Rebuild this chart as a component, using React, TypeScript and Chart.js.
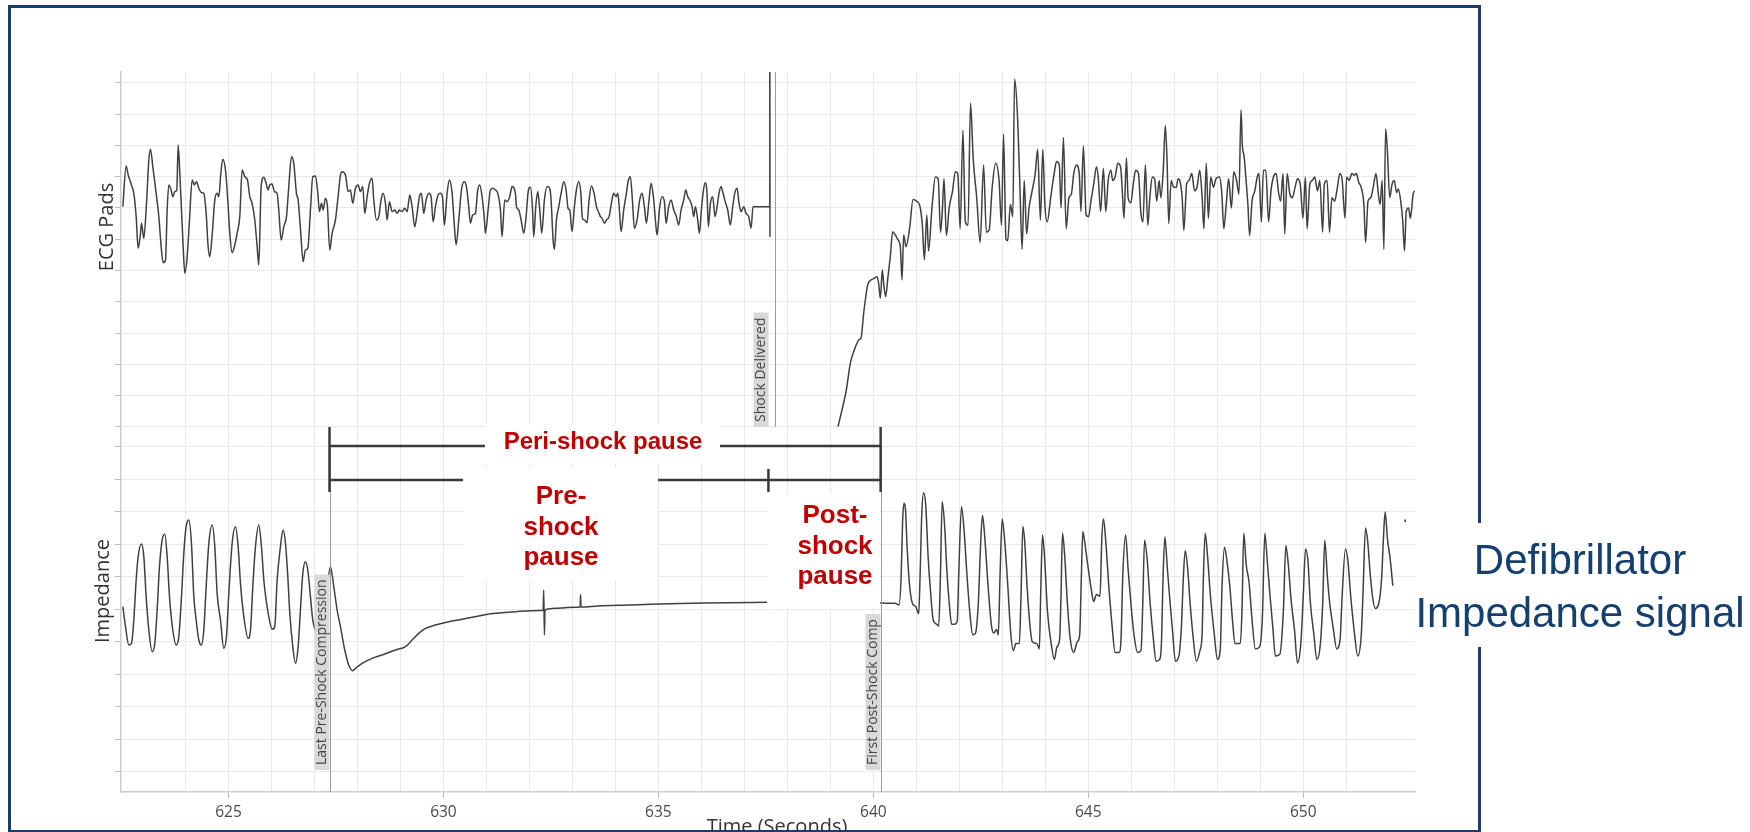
import React, { useEffect, useRef } from 'react';
import { Chart, registerables } from 'chart.js';

Chart.register(...registerables);

// ---------------- axis ranges & tick data ----------------
const xMin = 622.5;
const xMax = 652.6;
const xTickLabels = [625, 630, 635, 640, 645, 650];
const ecgMin = -9.331; // mV
const ecgMax = 2.171;
const impMin = 43.75; // ohm
const impMax = 265.3;
const ecgGrid = [2, 1.5, 1, 0.5, 0, -0.5, -1, -1.5, -2, -2.5, -3, -3.5];
const impGrid = [150, 140, 130, 120, 110, 100, 90, 80, 70, 60, 50];

// ---------------- event times (s) ----------------
const lastPreShockTime = 627.35;
const shockDeliveredTime = 637.72;
const shockBracketTime = 637.56;
const firstPostShockTime = 640.17;

// ---------------- ECG pads signal (time s, mV) ----------------
const ecgPreShock: [number, number][] = [
  [622.543,0.020],[622.620,0.670],[622.667,0.526],[622.744,0.366],[622.798,0.233],[622.853,-0.140],[622.899,-0.646],[622.953,-0.406],[622.977,-0.246],[623.031,-0.486],
  [623.093,0.073],[623.147,0.766],[623.186,0.936],[623.240,0.659],[623.318,0.233],[623.380,-0.140],[623.434,-0.619],[623.481,-0.875],[623.535,-0.832],[623.574,-0.033],
  [623.612,0.366],[623.667,0.286],[623.705,0.180],[623.752,0.260],[623.798,0.286],[623.829,1.005],[623.868,0.552],[623.907,-0.033],[623.946,-0.619],[623.984,-1.045],
  [624.039,-0.779],[624.093,-0.193],[624.155,0.446],[624.209,0.366],[624.256,0.419],[624.310,0.313],[624.372,0.244],[624.426,0.233],[624.481,-0.087],[624.527,-0.619],
  [624.566,-0.779],[624.620,-0.433],[624.682,0.127],[624.736,0.233],[624.775,0.180],[624.822,0.552],[624.868,0.776],[624.930,0.606],[624.984,0.127],[625.031,-0.406],
  [625.085,-0.715],[625.147,-0.592],[625.201,-0.406],[625.263,-0.140],[625.318,0.606],[625.380,0.499],[625.442,0.446],[625.496,0.180],[625.550,0.073],[625.612,-0.193],
  [625.667,-0.619],[625.705,-0.912],[625.760,0.340],[625.822,0.489],[625.876,0.393],[625.922,0.286],[625.961,0.366],[626.015,0.382],[626.070,0.260],[626.132,0.233],
  [626.170,-0.033],[626.225,-0.513],[626.287,-0.300],[626.349,-0.140],[626.403,0.340],[626.465,0.819],[626.519,0.712],[626.581,0.233],[626.620,0.127],[626.682,-0.406],
  [626.736,-0.859],[626.791,-0.672],[626.845,-0.646],[626.907,-0.033],[626.961,0.499],[627.023,0.510],[627.078,0.233],[627.116,-0.060],[627.163,0.073],[627.202,-0.033],
  [627.256,0.153],[627.302,0.020],[627.356,-0.672],[627.411,-0.406],[627.488,-0.193],[627.550,0.180],[627.605,0.526],[627.643,0.579],[627.721,0.526],[627.783,0.260],
  [627.837,0.286],[627.891,0.073],[627.953,0.313],[628.015,0.366],[628.070,0.260],[628.124,0.340],[628.170,-0.087],[628.225,0.180],[628.279,0.393],[628.341,0.473],
  [628.380,0.127],[628.442,-0.193],[628.496,-0.140],[628.550,0.127],[628.597,0.233],[628.651,0.073],[628.690,-0.193],[628.744,0.100],[628.806,-0.060],[628.868,-0.033],
  [628.922,-0.087],[628.977,-0.033],[629.039,-0.060],[629.101,-0.007],[629.155,-0.060],[629.217,0.206],[629.271,0.020],[629.333,-0.300],[629.388,-0.087],[629.442,0.180],
  [629.488,0.233],[629.543,-0.087],[629.597,0.127],[629.659,0.233],[629.713,0.180],[629.760,-0.220],[629.814,0.020],[629.876,0.206],[629.930,0.233],[629.977,0.180],
  [630.023,-0.273],[630.085,0.233],[630.140,0.446],[630.202,0.233],[630.256,-0.300],[630.295,-0.592],[630.357,-0.193],[630.419,0.286],[630.481,0.419],[630.535,0.340],
  [630.589,0.020],[630.628,-0.246],[630.682,-0.113],[630.744,-0.087],[630.798,0.286],[630.845,0.366],[630.899,0.180],[630.954,-0.193],[630.977,-0.406],[631.039,-0.033],
  [631.093,0.286],[631.147,0.313],[631.210,0.286],[631.264,0.233],[631.326,-0.033],[631.364,-0.460],[631.426,0.127],[631.481,0.100],[631.543,0.180],[631.597,0.340],
  [631.674,0.233],[631.698,0.020],[631.752,-0.033],[631.807,-0.193],[631.869,-0.406],[631.923,-0.140],[631.977,0.286],[632.024,0.329],[632.070,0.020],[632.101,-0.460],
  [632.148,0.020],[632.194,0.260],[632.241,-0.033],[632.287,-0.406],[632.349,0.127],[632.411,0.340],[632.473,0.313],[632.504,0.127],[632.551,-0.513],[632.582,-0.662],
  [632.628,-0.193],[632.683,0.020],[632.737,0.233],[632.799,0.419],[632.853,0.286],[632.900,-0.007],[632.938,-0.033],[632.993,-0.379],[633.047,0.020],[633.093,0.286],
  [633.148,0.419],[633.194,0.260],[633.233,-0.166],[633.279,-0.193],[633.342,-0.236],[633.388,0.127],[633.442,0.350],[633.504,0.233],[633.559,0.020],[633.605,-0.060],
  [633.652,-0.140],[633.690,-0.166],[633.745,-0.246],[633.791,-0.193],[633.853,-0.140],[633.907,0.073],[633.962,0.233],[634.016,0.180],[634.055,0.233],[634.086,0.047],
  [634.132,-0.379],[634.194,-0.033],[634.256,0.233],[634.303,0.446],[634.349,0.499],[634.396,0.127],[634.442,-0.326],[634.504,-0.193],[634.566,0.127],[634.621,0.233],
  [634.675,0.020],[634.721,-0.246],[634.783,0.127],[634.830,0.393],[634.884,0.180],[634.931,-0.193],[634.969,-0.433],[635.032,0.020],[635.086,0.180],[635.140,0.100],
  [635.179,-0.246],[635.241,0.020],[635.295,0.127],[635.357,-0.033],[635.419,-0.140],[635.473,-0.273],[635.528,-0.033],[635.590,0.127],[635.636,0.286],[635.683,0.180],
  [635.729,0.127],[635.784,0.020],[635.822,-0.140],[635.861,0.020],[635.915,-0.193],[635.954,-0.406],[636.000,-0.033],[636.039,0.233],[636.086,0.403],[636.132,0.233],
  [636.163,-0.300],[636.210,0.073],[636.264,0.180],[636.318,-0.140],[636.365,0.020],[636.411,0.233],[636.458,0.340],[636.504,0.233],[636.566,0.073],[636.613,-0.033],
  [636.675,-0.273],[636.729,0.020],[636.776,0.233],[636.830,0.313],[636.877,0.073],[636.923,-0.060],[636.985,0.020],[637.039,-0.087],[637.101,-0.140],[637.156,-0.326],
  [637.202,0.020],[637.256,0.020],[637.590,0.020],[637.592,3.0],[637.596,-0.46],
];

const ecgPostShock: [number, number][] = [
  [639.178,-3.495],[639.271,-3.229],[639.372,-2.909],[639.465,-2.483],[639.543,-2.297],[639.620,-2.163],[639.675,-2.100],[639.713,-2.084],[639.775,-1.684],[639.814,-1.471],
  [639.868,-1.232],[639.946,-1.152],[640.023,-1.125],[640.085,-1.098],[640.124,-1.205],[640.163,-1.445],[640.209,-0.992],[640.240,-1.205],[640.287,-1.418],[640.341,-1.098],
  [640.395,-0.779],[640.450,-0.380],[640.512,-0.433],[640.566,-0.502],[640.628,-0.619],[640.667,-1.152],[640.706,-0.433],[640.760,-0.619],[640.843,-0.332],[640.924,0.135],
  [641.004,0.108],[641.084,0.026],[641.140,-0.277],[641.188,-0.827],[641.244,-0.112],[641.284,-0.690],[641.364,-0.002],[641.444,0.493],[641.508,0.466],[641.564,-0.387],
  [641.604,-0.057],[641.644,0.466],[641.700,-0.442],[641.764,-0.002],[641.844,0.273],[641.908,0.576],[641.964,0.548],[642.020,-0.332],[642.084,1.236],[642.140,-0.222],
  [642.204,-0.277],[642.260,1.676],[642.325,0.768],[642.405,0.163],[642.485,-0.552],[642.565,0.686],[642.629,-0.387],[642.693,-0.360],[642.765,0.328],[642.845,0.713],
  [642.925,0.438],[642.981,-0.277],[643.029,1.181],[643.085,-0.497],[643.125,-0.525],[643.189,0.053],[643.245,-0.140],[643.285,2.061],[643.349,1.538],[643.405,0.438],
  [643.461,-0.662],[643.510,0.438],[643.566,-0.415],[643.622,-0.002],[643.686,0.246],[643.766,0.548],[643.822,0.933],[643.886,-0.195],[643.942,0.933],[643.990,0.053],
  [644.046,-0.222],[644.126,0.163],[644.206,0.548],[644.262,0.741],[644.326,0.686],[644.366,-0.002],[644.422,1.126],[644.486,-0.332],[644.550,0.163],[644.606,0.218],
  [644.662,0.548],[644.726,0.686],[644.790,0.548],[644.830,-0.057],[644.886,0.988],[644.950,-0.112],[645.006,-0.140],[645.062,0.108],[645.127,0.383],[645.191,0.658],
  [645.231,0.493],[645.287,-0.057],[645.351,0.631],[645.407,-0.057],[645.463,0.438],[645.527,0.603],[645.567,0.438],[645.623,0.493],[645.687,0.713],[645.751,0.658],
  [645.791,0.273],[645.831,-0.167],[645.887,0.796],[645.927,0.163],[645.991,0.081],[646.047,0.383],[646.103,0.603],[646.168,0.548],[646.224,-0.085],[646.272,-0.222],
  [646.328,0.686],[646.384,-0.277],[646.432,0.163],[646.488,0.493],[646.544,0.466],[646.592,0.108],[646.648,0.438],[646.688,0.163],[646.744,0.603],[646.792,1.318],
  [646.832,0.768],[646.872,-0.250],[646.928,0.438],[646.984,0.328],[647.048,0.328],[647.088,0.466],[647.128,0.438],[647.184,0.163],[647.224,-0.360],[647.288,0.383],
  [647.344,0.438],[647.408,0.548],[647.472,0.273],[647.529,0.328],[647.593,0.603],[647.649,0.163],[647.689,-0.332],[647.745,0.713],[647.793,-0.167],[647.849,0.493],
  [647.913,0.328],[647.969,0.466],[648.049,0.493],[648.105,0.246],[648.153,-0.332],[648.209,0.053],[648.265,0.466],[648.329,-0.002],[648.385,0.576],[648.449,0.438],
  [648.505,0.218],[648.553,1.566],[648.585,0.988],[648.625,0.823],[648.665,0.493],[648.713,0.053],[648.753,-0.442],[648.809,0.108],[648.874,0.273],[648.930,0.493],
  [648.970,0.548],[649.026,-0.222],[649.074,0.603],[649.130,0.603],[649.194,-0.222],[649.250,0.273],[649.306,0.493],[649.370,0.548],[649.426,0.246],[649.474,0.108],
  [649.530,0.548],[649.570,-0.415],[649.626,0.548],[649.690,0.218],[649.746,0.163],[649.810,0.328],[649.866,0.466],[649.930,0.383],[649.994,-0.167],[650.050,0.493],
  [650.090,-0.332],[650.154,0.383],[650.211,0.438],[650.267,0.493],[650.331,0.273],[650.387,0.438],[650.451,-0.387],[650.491,0.383],[650.555,0.438],[650.611,-0.387],
  [650.667,0.163],[650.731,0.108],[650.795,0.328],[650.851,0.548],[650.907,0.438],[650.971,-0.167],[651.011,0.493],[651.067,0.438],[651.131,0.548],[651.187,0.521],
  [651.235,0.548],[651.291,0.411],[651.347,0.328],[651.411,0.053],[651.451,-0.552],[651.507,0.108],[651.571,0.163],[651.628,0.328],[651.692,0.548],[651.748,0.218],
  [651.788,0.053],[651.836,0.438],[651.876,-0.662],[651.916,1.263],[651.956,0.933],[652.012,0.163],[652.068,0.383],[652.116,0.438],[652.172,0.246],[652.212,0.301],
  [652.268,0.108],[652.316,-0.222],[652.356,-0.690],[652.396,-0.057],[652.452,-0.002],[652.492,-0.167],[652.556,0.218],[652.596,0.273],
];

// ---------------- Defibrillator impedance signal (time s, ohm) ----------------
const impedance: [number, number][] = [
  [622.543,100.78],[622.605,94.63],[622.682,88.99],[622.744,89.50],[622.798,96.68],[622.853,108.99],[622.899,116.16],[622.977,120.06],[623.031,116.16],[623.085,103.86],
  [623.147,93.60],[623.225,86.94],[623.287,89.50],[623.341,99.75],[623.395,113.09],[623.457,121.29],[623.519,123.04],[623.574,116.16],[623.628,103.86],[623.705,93.60],
  [623.783,88.99],[623.845,91.55],[623.907,103.86],[623.961,117.19],[624.015,125.40],[624.077,127.45],[624.139,120.27],[624.194,103.86],[624.248,96.68],[624.310,90.52],
  [624.364,88.99],[624.426,93.60],[624.481,106.93],[624.543,120.27],[624.620,125.91],[624.682,119.24],[624.736,104.88],[624.814,96.68],[624.891,87.96],[624.953,91.55],
  [625.008,104.88],[625.085,120.27],[625.163,125.40],[625.225,119.24],[625.279,107.96],[625.357,97.70],[625.457,91.04],[625.512,93.60],[625.566,106.93],[625.628,119.24],
  [625.705,125.91],[625.767,119.24],[625.822,108.99],[625.876,102.83],[625.938,97.70],[626.015,93.81],[626.077,94.63],[626.132,108.99],[626.209,119.24],[626.271,124.37],
  [626.326,120.27],[626.380,110.01],[626.426,98.73],[626.496,88.47],[626.558,83.35],[626.620,88.47],[626.674,99.75],[626.729,111.04],[626.791,114.63],[626.845,112.06],
  [626.907,103.86],[626.961,96.68],[627.101,92.57],[627.256,101.80],[627.372,113.09],[627.450,106.93],[627.527,99.75],[627.605,94.63],[627.705,87.45],[627.798,82.83],
  [627.891,81.09],[627.953,81.81],[628.108,83.35],[628.341,84.88],[628.574,85.91],[628.884,87.45],[629.116,88.47],[629.271,90.52],[629.426,92.57],[629.543,93.81],
  [629.814,95.14],[630.124,96.17],[630.434,96.88],[630.744,97.70],[631.054,98.52],[631.364,98.93],[631.674,99.24],[632.062,99.55],[632.318,99.65],[632.333,105.91],
  [632.349,92.06],[632.364,99.75],[632.604,100.27],[632.837,100.47],[633.10,100.6],[633.18,100.7],[633.19,104.5],[633.20,100.7],[633.6,101.0],[634.3,101.3],
  [635.0,101.6],[635.8,101.8],[636.6,102.0],[637.5,102.1],[638.5,102.2],[639.5,102.3],[640.403,101.82],[640.501,101.82],[640.599,101.28],[640.648,110.45],
  [640.680,126.64],[640.713,132.58],[640.746,130.96],[640.786,119.09],[640.844,107.22],[640.909,101.82],[640.990,100.74],[641.056,98.58],[641.088,110.45],[641.129,129.88],
  [641.170,135.81],[641.219,132.04],[641.276,115.85],[641.333,105.06],[641.398,96.42],[641.480,95.35],[641.521,94.81],[641.561,110.45],[641.602,133.12],[641.659,125.56],
  [641.708,112.61],[641.773,100.74],[641.822,95.35],[641.888,95.35],[641.953,96.42],[641.986,110.45],[642.051,131.50],[642.116,123.40],[642.173,111.53],[642.255,97.50],
  [642.312,92.11],[642.377,92.65],[642.442,101.82],[642.500,121.25],[642.540,128.80],[642.597,121.25],[642.663,108.30],[642.744,95.35],[642.801,92.65],[642.867,93.73],
  [642.907,92.11],[642.948,110.45],[642.997,127.72],[643.054,121.25],[643.128,107.22],[643.193,93.19],[643.258,87.25],[643.315,89.41],[643.397,89.41],[643.437,105.06],
  [643.478,125.56],[643.519,121.25],[643.576,107.22],[643.641,95.35],[643.699,89.95],[643.805,89.41],[643.862,87.79],[643.894,105.06],[643.935,122.86],[643.984,115.85],
  [644.049,99.66],[644.131,89.95],[644.212,84.55],[644.269,88.33],[644.335,91.03],[644.367,105.06],[644.400,123.40],[644.449,116.93],[644.514,101.82],[644.579,91.03],
  [644.661,86.71],[644.743,89.95],[644.800,92.11],[644.840,110.45],[644.873,123.94],[644.922,120.17],[644.987,113.69],[645.069,106.14],[645.126,102.36],[645.191,104.52],
  [645.273,103.98],[645.314,121.25],[645.354,127.72],[645.411,120.17],[645.477,107.22],[645.558,94.27],[645.624,86.71],[645.721,86.71],[645.762,91.03],[645.803,110.45],
  [645.868,122.86],[645.925,112.61],[645.991,101.82],[646.064,92.11],[646.146,86.71],[646.227,87.25],[646.268,101.82],[646.309,121.25],[646.374,114.77],[646.439,101.82],
  [646.513,91.03],[646.578,84.01],[646.660,84.55],[646.700,88.87],[646.741,110.45],[646.782,122.32],[646.839,112.61],[646.904,101.82],[646.961,93.19],[647.027,84.01],
  [647.108,85.63],[647.165,94.27],[647.214,110.45],[647.255,118.01],[647.312,112.61],[647.369,101.82],[647.434,92.11],[647.516,84.01],[647.597,87.25],[647.647,92.11],
  [647.679,110.45],[647.720,123.40],[647.777,115.85],[647.842,103.98],[647.924,93.19],[648.005,84.55],[648.071,87.79],[648.112,107.22],[648.169,119.09],[648.226,114.77],
  [648.291,107.22],[648.356,96.42],[648.413,89.41],[648.536,89.41],[648.576,99.66],[648.617,123.40],[648.674,113.69],[648.740,108.30],[648.805,97.50],[648.887,87.79],
  [648.984,88.33],[649.050,97.50],[649.107,123.40],[649.164,114.77],[649.229,103.98],[649.294,94.27],[649.351,85.63],[649.457,86.17],[649.539,99.66],[649.596,119.63],
  [649.653,113.69],[649.718,102.90],[649.800,93.19],[649.865,83.47],[649.947,89.95],[650.004,105.06],[650.053,118.55],[650.110,114.77],[650.167,101.82],[650.249,92.11],
  [650.314,84.55],[650.396,88.87],[650.453,101.82],[650.501,121.25],[650.559,110.45],[650.616,101.82],[650.697,94.27],[650.779,87.79],[650.860,91.03],[650.901,102.90],
  [650.983,118.55],[651.040,114.77],[651.105,103.98],[651.187,93.19],[651.268,85.63],[651.350,92.11],[651.391,105.06],[651.448,125.02],[651.497,121.25],[651.554,111.53],
  [651.611,103.98],[651.676,100.20],[651.758,101.82],[651.823,109.37],[651.864,121.25],[651.905,129.88],[651.962,121.25],[652.019,115.85],[652.084,107.22],
];
const impedanceTail: [number, number][] = [[652.36,127.6],[652.38,126.8]];

// ---------------- helpers ----------------
const toPoints = (arr: [number, number][]) => arr.map(([x, y]) => ({ x, y }));
const ecgToImp = (z: number) => ecgMin + ((z - impMin) / (impMax - impMin)) * (ecgMax - ecgMin);

const TEXT_FONT = '"Open Sans", "DejaVu Sans", sans-serif';
const SLIDE_FONT = '"Liberation Sans", Arial, sans-serif';

function vLine(ctx: CanvasRenderingContext2D, x: number, y1: number, y2: number) {
  ctx.beginPath();
  ctx.moveTo(x, y1);
  ctx.lineTo(x, y2);
  ctx.stroke();
}
function hLine(ctx: CanvasRenderingContext2D, x1: number, x2: number, y: number) {
  ctx.beginPath();
  ctx.moveTo(x1, y);
  ctx.lineTo(x2, y);
  ctx.stroke();
}
function markerLabel(ctx: CanvasRenderingContext2D, text: string, right: number, bottom: number) {
  ctx.save();
  ctx.font = '14px ' + TEXT_FONT;
  const w = ctx.measureText(text).width;
  const boxW = 15;
  const boxH = w + 10;
  ctx.fillStyle = '#d9d9d9';
  ctx.fillRect(right - boxW, bottom - boxH, boxW, boxH);
  ctx.translate(right - boxW / 2 + 0.5, bottom - 5);
  ctx.rotate(-Math.PI / 2);
  ctx.fillStyle = '#444';
  ctx.textAlign = 'left';
  ctx.textBaseline = 'middle';
  ctx.fillText(text, 0, 0);
  ctx.restore();
}

const overlayPlugin = {
  id: 'overlay',
  afterDatasetsDraw(chart: any) {
    const { ctx, chartArea: a } = chart;
    const sx = chart.scales.x;
    const sy = chart.scales.y;
    const si = chart.scales.yImp;
    ctx.save();
    const ecgBottom = sy.getPixelForValue(ecgGrid[ecgGrid.length - 1]);
    const impTop = si.getPixelForValue(impGrid[0]);
    const xShock = Math.round(sx.getPixelForValue(shockDeliveredTime)) + 0.5;
    const xLast = Math.round(sx.getPixelForValue(lastPreShockTime)) + 0.5;
    const xFirst = Math.round(sx.getPixelForValue(firstPostShockTime)) + 0.5;

    ctx.strokeStyle = '#9c9c9c';
    ctx.lineWidth = 1;
    vLine(ctx, xShock, a.top, ecgBottom);
    vLine(ctx, xLast, impTop, a.bottom);
    vLine(ctx, xFirst, impTop, a.bottom);
    markerLabel(ctx, 'Shock Delivered', xShock - 7, ecgBottom);
    markerLabel(ctx, 'Last Pre-Shock Compression', xLast - 1, a.bottom - 22);
    markerLabel(ctx, 'First Post-Shock Comp', xFirst - 1, a.bottom - 22);

    // brackets
    const b0 = sx.getPixelForValue(lastPreShockTime);
    const b1 = sx.getPixelForValue(firstPostShockTime);
    const bm = sx.getPixelForValue(shockBracketTime);
    ctx.strokeStyle = '#3a3a3a';
    ctx.lineWidth = 2.5;
    hLine(ctx, b0, b1, 446);
    hLine(ctx, b0, b1, 480);
    vLine(ctx, b0, 427, 492);
    vLine(ctx, b1, 427, 492);
    vLine(ctx, bm, 469, 492);

    // white callout boxes
    ctx.fillStyle = '#ffffff';
    ctx.fillRect(485, 424, 235, 40);
    ctx.fillRect(463, 468, 195, 112);
    ctx.fillRect(767, 493, 113, 115);

    ctx.fillStyle = '#c00000';
    ctx.textAlign = 'center';
    ctx.textBaseline = 'middle';
    ctx.font = 'bold 24px ' + SLIDE_FONT;
    ctx.fillText('Peri-shock pause', 603, 442);
    ctx.font = 'bold 26px ' + SLIDE_FONT;
    ['Pre-', 'shock', 'pause'].forEach((s, i) => ctx.fillText(s, 561, 497 + i * 30.5));
    ['Post-', 'shock', 'pause'].forEach((s, i) => ctx.fillText(s, 835, 516 + i * 30.5));
    ctx.restore();
  },
  afterDraw(chart: any) {
    const { ctx } = chart;
    ctx.save();
    ctx.fillStyle = '#333';
    ctx.font = '20px ' + TEXT_FONT;
    ctx.textAlign = 'center';
    ctx.textBaseline = 'middle';
    const rot = (text: string, x: number, y: number) => {
      ctx.save();
      ctx.translate(x, y);
      ctx.rotate(-Math.PI / 2);
      ctx.fillText(text, 0, 0);
      ctx.restore();
    };
    rot('ECG Pads', 107, 227);
    rot('Impedance', 103, 591);
    ctx.fillText('Time (Seconds)', 777, 827);
    ctx.restore();
  },
};

export default function App() {
  const canvasRef = useRef<HTMLCanvasElement>(null);

  useEffect(() => {
    if (!canvasRef.current) return;
    const gridColor = '#e9e9e9';
    const chart = new Chart(canvasRef.current, {
      type: 'line',
      data: {
        datasets: [
          {
            label: 'ECG Pads',
            data: [...toPoints(ecgPreShock), { x: 638.4, y: null }, ...toPoints(ecgPostShock)] as any,
            yAxisID: 'y',
            borderColor: '#404040',
            borderWidth: 1.5,
            pointRadius: 0,
            cubicInterpolationMode: 'monotone',
            spanGaps: false,
            clip: { left: 0, top: 0, right: 0, bottom: -364 } as any,
          },
          {
            label: 'Impedance',
            data: [...toPoints(impedance), { x: 652.2, y: null }, ...toPoints(impedanceTail)] as any,
            yAxisID: 'yImp',
            borderColor: '#404040',
            borderWidth: 1.5,
            pointRadius: 0,
            cubicInterpolationMode: 'monotone',
            spanGaps: false,
          },
        ],
      },
      options: {
        responsive: false,
        devicePixelRatio: 1,
        animation: false,
        events: [],
        layout: { padding: { left: 115, right: 335, top: 72, bottom: 28 } },
        plugins: { legend: { display: false }, tooltip: { enabled: false } },
        scales: {
          x: {
            type: 'linear',
            min: xMin,
            max: xMax,
            afterBuildTicks: (s: any) => {
              s.ticks = s.ticks.filter((t: any) => Math.abs(t.value - Math.round(t.value)) < 1e-6);
            },
            afterFit: (s: any) => {
              s.height = 60;
            },
            ticks: {
              stepSize: 1,
              autoSkip: false,
              maxRotation: 0,
              padding: 5,
              color: '#4a4a4a',
              font: { family: TEXT_FONT, size: 15.5 },
              callback: (v: any) => (xTickLabels.includes(Number(v)) ? String(v) : ''),
            },
            grid: {
              color: gridColor,
              lineWidth: 1,
              tickLength: 6,
              tickColor: (c: any) => (c.tick && xTickLabels.includes(c.tick.value) ? '#b8b8b8' : 'rgba(0,0,0,0)'),
            },
            border: { display: true, color: '#cccccc', width: 1.5 },
          },
          y: {
            type: 'linear',
            position: 'left',
            min: ecgMin,
            max: ecgMax,
            afterBuildTicks: (s: any) => {
              const vals = [...ecgGrid, ...impGrid.map(ecgToImp)].sort((p, q) => p - q);
              s.ticks = vals.map((value) => ({ value }));
            },
            ticks: { display: false },
            grid: { color: gridColor, lineWidth: 1, tickLength: 6, tickColor: '#bdbdbd' },
            border: { display: true, color: '#cccccc', width: 1.5 },
          },
          yImp: {
            type: 'linear',
            position: 'left',
            display: false,
            min: impMin,
            max: impMax,
          },
        },
      },
      plugins: [overlayPlugin],
    } as any);
    return () => chart.destroy();
  }, []);

  return (
    <div
      style={{
        position: 'absolute',
        left: 0,
        top: 0,
        width: 1750,
        height: 832,
        overflow: 'hidden',
        background: '#ffffff',
      }}
    >
      <canvas
        ref={canvasRef}
        width={1750}
        height={880}
        style={{ position: 'absolute', left: 0, top: 0, width: 1750, height: 880, display: 'block' }}
      />
      <div
        style={{
          position: 'absolute',
          left: 8,
          top: 5,
          width: 1473,
          height: 828,
          border: '3px solid #163f6d',
          boxSizing: 'border-box',
          pointerEvents: 'none',
        }}
      />
      <div style={{ position: 'absolute', left: 1474, top: 523, width: 10, height: 124, background: '#ffffff' }} />
      <div
        style={{
          position: 'absolute',
          left: 1380,
          top: 533,
          width: 400,
          textAlign: 'center',
          font: '42px/53px ' + SLIDE_FONT,
          color: '#143f6e',
          whiteSpace: 'nowrap',
        }}
      >
        Defibrillator
        <br />
        Impedance signal
      </div>
    </div>
  );
}
